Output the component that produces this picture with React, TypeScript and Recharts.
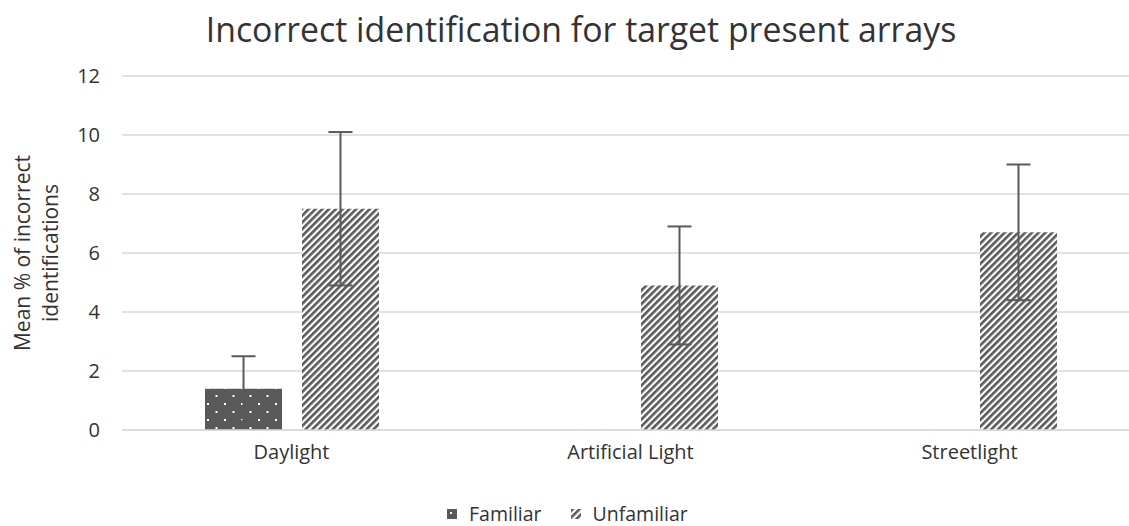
import { BarChart, Bar, XAxis, YAxis, CartesianGrid, ErrorBar } from "recharts";

const categories = ["Daylight", "Artificial Light", "Streetlight"];
const familiar = [1.4, 0, 0];
const familiarErr = [1.1, 0, 0];
const unfamiliar = [7.5, 4.9, 6.7];
const unfamiliarErr = [2.6, 2.0, 2.3];
const yTicks = [0, 2, 4, 6, 8, 10, 12];

const data = categories.map((name, i) => ({
  name,
  familiar: familiar[i],
  familiarErr: familiarErr[i],
  unfamiliar: unfamiliar[i],
  unfamiliarErr: unfamiliarErr[i],
}));

const FONT = "'Open Sans', sans-serif";
const TEXT = "#333333";
const DARK = "#595959";

function Patterns() {
  return (
    <defs>
      <pattern id="dots" width="17" height="16" patternUnits="userSpaceOnUse">
        <rect width="17" height="16" fill={DARK} />
        <rect x="3" y="3" width="2" height="2" fill="#ffffff" />
        <rect x="11.5" y="11" width="2" height="2" fill="#ffffff" />
      </pattern>
      <pattern
        id="stripes"
        width="4.8"
        height="4.8"
        patternUnits="userSpaceOnUse"
        patternTransform="rotate(45)"
      >
        <rect width="4.8" height="4.8" fill="#ffffff" />
        <rect width="2.6" height="4.8" fill={DARK} />
      </pattern>
    </defs>
  );
}

function LegendIcon({ fill }: { fill: string }) {
  return (
    <svg width={10} height={10} style={{ marginRight: 12 }}>
      <Patterns />
      <rect width={10} height={10} fill={fill} />
    </svg>
  );
}

export default function App() {
  return (
    <div
      style={{
        position: "fixed",
        top: 0,
        left: 0,
        width: 1129,
        height: 526,
        overflow: "hidden",
        background: "#fff",
        fontFamily: FONT,
      }}
    >
      <div
        style={{
          position: "absolute",
          top: 6,
          left: 0,
          width: 1162,
          textAlign: "center",
          fontSize: 33.8,
          lineHeight: "normal",
          color: TEXT,
        }}
      >
        Incorrect identification for target present arrays
      </div>

      <BarChart
        width={1150}
        height={526}
        data={data}
        margin={{ top: 76, right: 11, left: 0, bottom: 56 }}
        barSize={77}
        barGap={20}
      >
        <Patterns />
        <CartesianGrid stroke="#d9d9d9" strokeWidth={1.5} vertical={false} />
        <XAxis
          dataKey="name"
          height={40}
          axisLine={{ stroke: "#d9d9d9", strokeWidth: 1.5 }}
          tickLine={false}
          tick={({ x, y, payload }) => (
            <text
              x={x}
              y={Number(y) + 21}
              textAnchor="middle"
              fontSize={20}
              fill={TEXT}
              fontFamily={FONT}
            >
              {payload.value}
            </text>
          )}
        />
        <YAxis
          width={122}
          domain={[0, 12]}
          ticks={yTicks}
          axisLine={false}
          tickLine={false}
          tickSize={20}
          tickMargin={2}
          tick={{ fontSize: 20, fill: TEXT, fontFamily: FONT }}
          label={{
            content: () => (
              <text
                transform="translate(36, 253) rotate(-90)"
                textAnchor="middle"
                fontSize={21}
                fill={TEXT}
                fontFamily={FONT}
              >
                <tspan x={0} dy={-6}>
                  Mean % of incorrect
                </tspan>
                <tspan x={0} dy={28}>
                  identifications
                </tspan>
              </text>
            ),
          }}
        />
        <Bar dataKey="familiar" fill="url(#dots)" isAnimationActive={false}>
          <ErrorBar
            dataKey="familiarErr"
            width={12}
            stroke={DARK}
            strokeWidth={2}
            isAnimationActive={false}
          />
        </Bar>
        <Bar dataKey="unfamiliar" fill="url(#stripes)" isAnimationActive={false}>
          <ErrorBar
            dataKey="unfamiliarErr"
            width={12}
            stroke={DARK}
            strokeWidth={2}
            isAnimationActive={false}
          />
        </Bar>
      </BarChart>

      <div
        style={{
          position: "absolute",
          top: 504,
          left: 447,
          height: 20,
          display: "flex",
          alignItems: "center",
          gap: 29,
          fontSize: 19.5,
          lineHeight: "20px",
          color: TEXT,
        }}
      >
        <span style={{ display: "flex", alignItems: "center" }}>
          <LegendIcon fill="url(#dots)" />
          Familiar
        </span>
        <span style={{ display: "flex", alignItems: "center" }}>
          <LegendIcon fill="url(#stripes)" />
          Unfamiliar
        </span>
      </div>
    </div>
  );
}
